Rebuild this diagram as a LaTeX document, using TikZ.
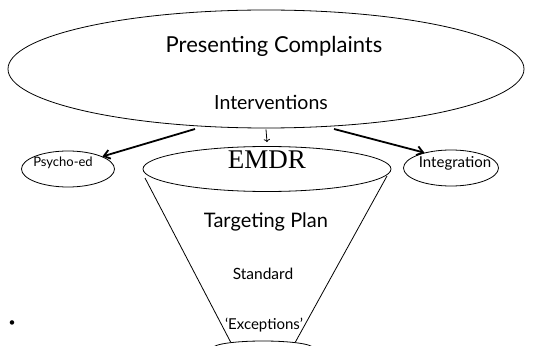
\documentclass[tikz,border=0pt]{standalone}
\usepackage{fontspec}
\setmainfont{Lato}
\newfontfamily\emdrfont{Liberation Serif}
\usetikzlibrary{shapes.geometric, arrows.meta, positioning}

\begin{document}
\begin{tikzpicture} [x=1pt, y=1pt,
    every node/.style = {inner sep=0pt},
    blob/.style = {ellipse, draw, line width=0.8pt},
    arr/.style = {-{Straight Barb[length=6pt, width=9pt]}, line width=1.8pt}]
    % \draw [help lines] (0,0) grid (550,346);
    \useasboundingbox (0,0) rectangle (550,346);
    \node (pc) [blob, minimum width=516pt, minimum height=118pt] at (266,277) {};
    \node (pres) at (274,300) {\fontsize{22}{26}\selectfont Presenting Complaints};
    \node (intv) at (271,244) {\fontsize{19.5}{23}\selectfont Interventions};

    \node (psy) [blob, minimum width=93pt, minimum height=36pt] at (68,177) {};
    \node (psyt) at (63,183) {\fontsize{13}{15}\selectfont Psycho-ed};
    \node (emdr) [blob, minimum width=248pt, minimum height=45pt] at (267,177) {};
    \node (emdrt) at (267,186) {\emdrfont\fontsize{27}{30}\selectfont EMDR};
    \node (intg) [blob, minimum width=95pt, minimum height=36pt] at (451,178) {};
    \node (intgt) at (455,183) {\fontsize{15}{18}\selectfont Integration};

    \node (tp) at (266,124) {\fontsize{20}{24}\selectfont Targeting Plan};
    \node (std) at (263,72) {\fontsize{15.5}{18}\selectfont Standard};
    \node (exc) at (264,21) {\fontsize{15}{18}\selectfont `Exceptions'};
    \node (dot) at (12,22) {\fontsize{12}{14}\selectfont\textbullet};
    \node (bot) [blob, minimum width=100pt, minimum height=14pt] at (263,-2) {};

    \coordinate (fl) at (145,168);
    \coordinate (fr) at (387,170);
    \coordinate (l1) at (195,217);
    \coordinate (r1) at (334,217);

    \draw [line width=0.8pt] (fl) -- (bot.170);
    \draw [line width=0.8pt] (fr) -- (bot.10);
    \draw [arr] (l1) -- (psy.20);
    \draw [arr] (r1) -- (intg.150);
    \draw [-{To[length=3pt]}, line width=0.8pt] ([yshift=-1pt]pc.south) -- ([yshift=4pt]emdr.north);
\end{tikzpicture}
\end{document}
